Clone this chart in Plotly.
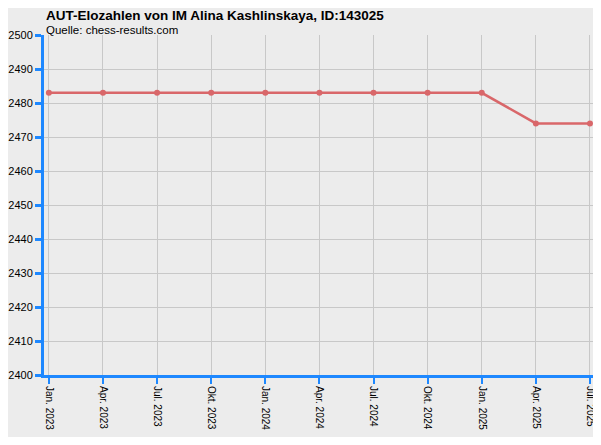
import plotly.graph_objects as go

# Daten
monate = ['Jan. 2023', 'Apr. 2023', 'Jul. 2023', 'Okt. 2023', 'Jan. 2024', 'Apr. 2024',
          'Jul. 2024', 'Okt. 2024', 'Jan. 2025', 'Apr. 2025', 'Jul. 2025']
elo = [2483, 2483, 2483, 2483, 2483, 2483, 2483, 2483, 2483, 2474, 2474]
y_ticks = [2400, 2410, 2420, 2430, 2440, 2450, 2460, 2470, 2480, 2490, 2500]

bg = '#ECECEC'
blau = '#1E88FF'
idx = list(range(len(monate)))

fig = go.Figure()
fig.add_trace(go.Scatter(
    x=idx, y=elo,
    mode='lines+markers',
    line=dict(color='#D9676A', width=2.5),
    marker=dict(color='#D9676A', size=6),
    showlegend=False,
))

# Seite hat 8px Rand (body margin), deshalb kleiner
plot_h = 429 - 27 - 62
fig.update_layout(
    width=593, height=429,
    margin=dict(l=36, r=4, t=27, b=62),
    paper_bgcolor=bg, plot_bgcolor=bg,
    font=dict(family='Liberation Sans, Arial', size=11, color='black'),
)

fig.add_annotation(
    xref='paper', yref='paper', x=0.002, y=1 + 19 / plot_h, xanchor='left', yanchor='middle',
    text='<b>AUT-Elozahlen von IM Alina Kashlinskaya, ID:143025</b>',
    showarrow=False, font=dict(size=13.5), borderpad=0,
)
fig.add_annotation(
    xref='paper', yref='paper', x=0.002, y=1 + 5 / plot_h, xanchor='left', yanchor='middle',
    text='Quelle: chess-results.com',
    showarrow=False, font=dict(size=11.5), borderpad=0,
)

fig.update_xaxes(
    range=[-0.09, 10.13], tickvals=idx, ticktext=monate, automargin=False,
    tickangle=90, ticks='outside', ticklen=6, tickwidth=2, tickcolor=blau,
    showline=True, linecolor=blau, linewidth=3,
    showgrid=True, gridcolor='#C8C8C8', gridwidth=1, zeroline=False,
    tickfont=dict(size=10),
)
fig.update_yaxes(
    range=[2400, 2500], tickvals=y_ticks, automargin=False,
    ticks='outside', ticklen=6, tickwidth=3, tickcolor=blau,
    showline=True, linecolor=blau, linewidth=3,
    showgrid=True, gridcolor='#C8C8C8', gridwidth=1,
    zeroline=False, tickfont=dict(size=11),
)

fig.write_html("out.html")
